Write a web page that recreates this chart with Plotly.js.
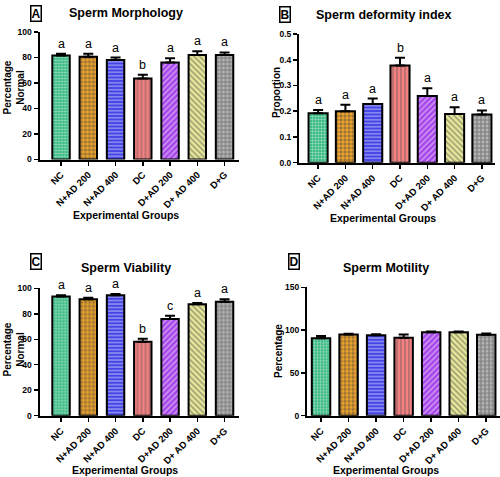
<!DOCTYPE html>
<html>
<head>
<meta charset="utf-8">
<script src="https://cdn.plot.ly/plotly-3.0.1.min.js"></script>
<style>html,body{margin:0;padding:0;background:#fff;}#chart{width:500px;height:477px;}</style>
</head>
<body>
<div id="chart"></div>
<script>
// ---- data ----
const groups = ["NC", "N+AD 200", "N+AD 400", "DC", "D+AD 200", "D+ AD 400", "D+G"];

const morphology = [81.5, 80.5, 78, 63.5, 76, 82, 82];
const morphologyErr = [1.5, 2.5, 2, 3, 3.5, 3, 2];
const morphologyLetters = ["a", "a", "a", "b", "a", "a", "a"];

const deformity = [0.192, 0.200, 0.228, 0.378, 0.259, 0.189, 0.187];
const deformityErr = [0.013, 0.025, 0.021, 0.030, 0.030, 0.026, 0.016];
const deformityLetters = ["a", "a", "a", "b", "a", "a", "a"];

const viability = [93.5, 91.5, 94.5, 58, 76, 87.5, 89.5];
const viabilityErr = [1, 1, 1, 2.5, 2.5, 1, 2];
const viabilityLetters = ["a", "a", "a", "b", "c", "a", "a"];

const motility = [90.5, 95, 94, 91, 97.5, 97.5, 94.5];
const motilityErr = [2.5, 0.8, 1.2, 4, 1, 0.8, 1.5];

const panelTitles = ["Sperm Morphology", "Sperm deformity index", "Sperm Viability", "Sperm Motility"];
const panelLabels = ["A", "B", "C", "D"];
const yTitles = ["Percentage<br>Normal", "Proportion", "Percentage<br>Normal", "Percentage"];
const xTitle = "Experimental Groups";

// ---- styles ----
const FONT = "Liberation Sans, Arial, sans-serif";
const bgColors = ["#22b274", "#f4a62a", "#4444e6", "#f28282", "#a645ea", "#e6e69a", "#b4b4b4"];
const fgColors = ["#0c4f33", "#1a1a1a", "#1e1e80", "#c04848", "#4e1478", "#4a4a2a", "#2e2e2e"];
const shapes = [".", ".", "-", "|", "/", "\\", "+"];
const pSizes = [3, 4, 3.5, 4, 4, 4, 4];
const pSolid = [0.5, 0.55, 0.35, 0.3, 0.35, 0.35, 0.5];

function barTrace(vals, errs, xa, ya, width) {
  return {
    type: "bar", x: groups, y: vals, xaxis: xa, yaxis: ya, width: width,
    marker: {
      color: bgColors,
      line: {color: "#000", width: 2},
      pattern: {shape: shapes, fgcolor: fgColors, bgcolor: bgColors, size: pSizes, solidity: pSolid, fillmode: "overlay"}
    },
    error_y: {type: "data", symmetric: false, array: errs, arrayminus: errs.map(() => 0),
              color: "#000", thickness: 2, width: 5},
    showlegend: false, hoverinfo: "skip"
  };
}

const data = [
  barTrace(morphology, morphologyErr, "x", "y", 0.64),
  barTrace(deformity, deformityErr, "x2", "y2", 0.7),
  barTrace(viability, viabilityErr, "x3", "y3", 0.64),
  barTrace(motility, motilityErr, "x4", "y4", 0.67)
];

function xaxis(domain, range, anchor) {
  return {
    domain: domain, range: range, anchor: anchor, type: "category",
    showline: true, linecolor: "#000", linewidth: 2, mirror: false,
    ticks: "outside", ticklen: 4, tickwidth: 1.5, tickcolor: "#000",
    tickangle: -45, showgrid: false, zeroline: false, fixedrange: true,
    tickfont: {family: FONT, size: 9.5, color: "#000", weight: "bold"}
  };
}
function yaxis(domain, range, dtick, anchor, fmt) {
  return {
    domain: domain, range: range, dtick: dtick, anchor: anchor,
    showline: true, linecolor: "#000", linewidth: 2,
    ticks: "outside", ticklen: 4, tickwidth: 1.5, tickcolor: "#000",
    showgrid: false, zeroline: false, fixedrange: true, tickformat: fmt,
    tickfont: {family: FONT, size: 8.5, color: "#000", weight: "bold"}
  };
}

const annotations = [];
// significance letters above the error bars
function addLetters(letters, vals, errs, xr, yr) {
  letters.forEach((l, i) => annotations.push({
    x: groups[i], y: vals[i] + errs[i], xref: xr, yref: yr, text: l, showarrow: false,
    yanchor: "bottom", yshift: 1, font: {family: FONT, size: 12.5, color: "#000"}
  }));
}
addLetters(morphologyLetters, morphology, morphologyErr, "x", "y");
addLetters(deformityLetters, deformity, deformityErr, "x2", "y2");
addLetters(viabilityLetters, viability, viabilityErr, "x3", "y3");

// panel titles, boxed letters, axis titles
const titlePos = [[126, 13], [383, 15], [126, 268], [386, 268]];
const boxPos = [[35.5, 13.5], [285, 15], [35.5, 261], [294, 261]];
const yTitlePos = [[13.5, 88], [277, 93], [13.5, 350], [278, 351]];
const xTitlePos = [[126, 215], [383, 218], [125, 470], [386, 470]];
panelTitles.forEach((t, i) => {
  annotations.push({x: titlePos[i][0] / 500, y: 1 - titlePos[i][1] / 477, xref: "paper", yref: "paper",
    text: "<b>" + t + "</b>", showarrow: false, xanchor: "center", yanchor: "middle",
    font: {family: FONT, size: 12.5, color: "#000"}});
  annotations.push({x: boxPos[i][0] / 500, y: 1 - boxPos[i][1] / 477, xref: "paper", yref: "paper",
    text: "<b>" + panelLabels[i] + "</b>", showarrow: false, xanchor: "center", yanchor: "middle",
    bordercolor: "#000", borderwidth: 1.5, borderpad: 0,
    font: {family: FONT, size: 12, color: "#000"}});
  annotations.push({x: yTitlePos[i][0] / 500, y: 1 - yTitlePos[i][1] / 477, xref: "paper", yref: "paper",
    text: "<b>" + yTitles[i] + "</b>", showarrow: false, xanchor: "center", yanchor: "middle",
    textangle: -90, font: {family: FONT, size: 10, color: "#000"}});
  annotations.push({x: xTitlePos[i][0] / 500, y: 1 - xTitlePos[i][1] / 477, xref: "paper", yref: "paper",
    text: "<b>" + xTitle + "</b>", showarrow: false, xanchor: "center", yanchor: "middle",
    font: {family: FONT, size: 10.5, color: "#000"}});
});

const layout = {
  width: 500, height: 477,
  margin: {l: 0, r: 0, t: 0, b: 0},
  paper_bgcolor: "#fff", plot_bgcolor: "#fff",
  font: {family: FONT, color: "#000"},
  xaxis: xaxis([0.079, 0.478], [-0.79, 6.53], "y"),
  yaxis: yaxis([0.6656, 0.9329], [0, 100], 20, "x"),
  xaxis2: xaxis([0.598, 0.99], [-0.70, 6.48], "y2"),
  yaxis2: yaxis([0.6589, 0.9287], [0, 0.5], 0.1, "x2", ".1f"),
  xaxis3: xaxis([0.079, 0.478], [-0.79, 6.53], "y3"),
  yaxis3: yaxis([0.1285, 0.3956], [0, 100], 20, "x3"),
  xaxis4: xaxis([0.614, 1.0], [-0.51, 6.5], "y4"),
  yaxis4: yaxis([0.1285, 0.3977], [0, 150], 50, "x4"),
  annotations: annotations
};

Plotly.newPlot("chart", data, layout, {displayModeBar: false, staticPlot: true});
</script>
</body>
</html>
